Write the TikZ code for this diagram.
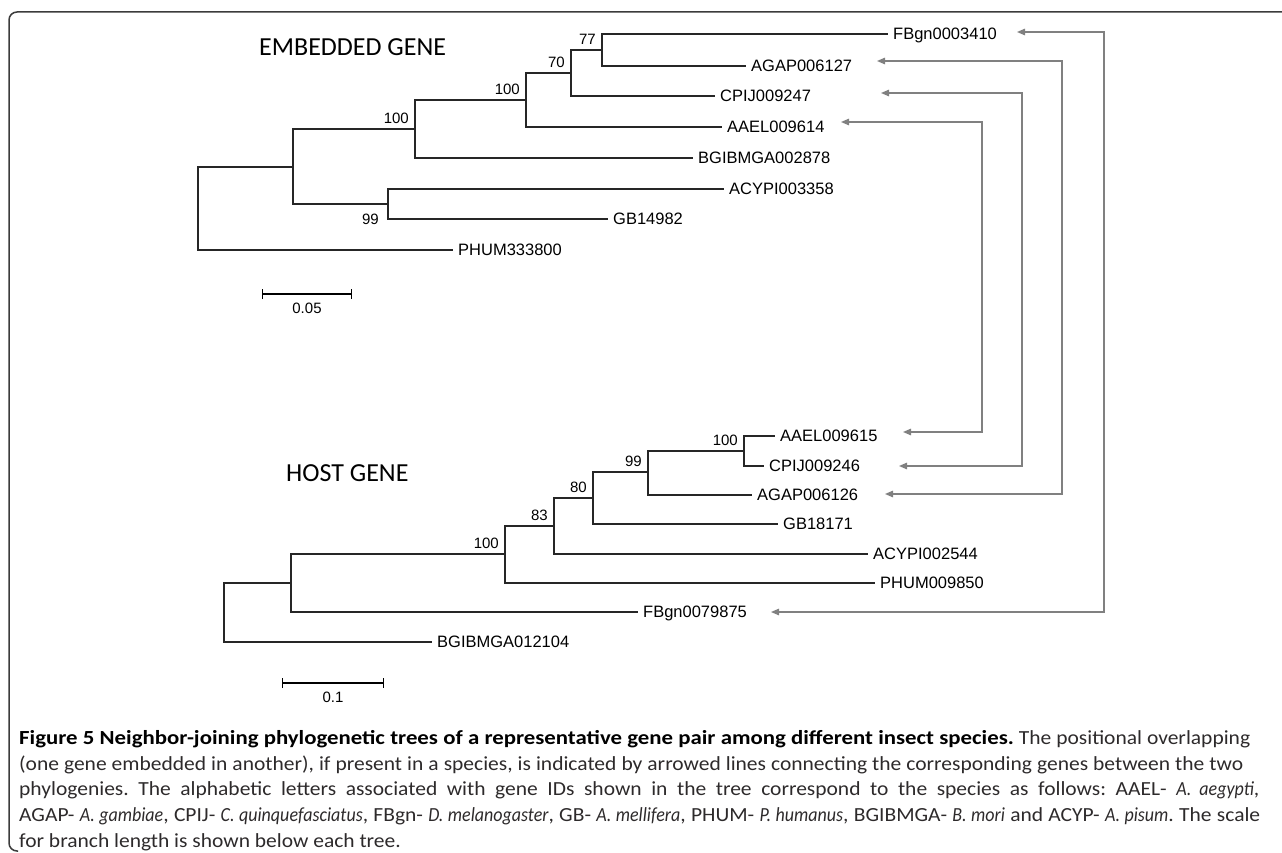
\documentclass[tikz,border=0pt]{standalone}
\usepackage{fontspec}
\setmainfont{Carlito}
\newfontfamily\arialfont{Liberation Sans}
\newfontfamily\capreg{Carlito}[FakeStretch=1.075]
\newfontfamily\capbold{Carlito}[FakeStretch=1.14]
\newfontfamily\capit{Carlito}[FakeStretch=0.9]
\usetikzlibrary{arrows.meta,positioning}
\definecolor{ntgray}{RGB}{128,128,128}
\definecolor{ntframe}{RGB}{60,60,60}
\definecolor{nttext}{RGB}{45,42,43}
\newcommand{\spname}[1]{{\capit\itshape #1}}
\newcommand{\capline}[2]{\makebox[#1pt][s]{#2}}
\frenchspacing
\tikzset{
  branch/.style={line width=1.2pt, black!85},
  leaf/.style={anchor=west, font=\arialfont\fontsize{16.5}{18}\selectfont, text height=11.8pt, text depth=0pt, inner xsep=5pt, inner ysep=1pt},
  boot/.style={inner sep=0pt, font=\arialfont\fontsize{15}{17}\selectfont},
  link/.style={ntgray, line width=1.3pt, {Triangle[length=8pt,width=6.5pt]}-{Triangle[length=8pt,width=6.5pt]}},
  treetitle/.style={anchor=west, inner sep=0pt, font=\fontsize{26}{30}\selectfont},
  scalebar/.style={line width=1.2pt, {Bar[width=10pt]}-{Bar[width=10pt]}},
}
\begin{document}
\begin{tikzpicture}[x=1pt,y=-1pt]
\useasboundingbox (0,0) rectangle (1282,853);
% frame
\draw[ntframe, line width=1.5pt, rounded corners=8pt] (1290,12) -- (9,12) -- (9,851) -- (18,851);

% embedded gene tree
\node[treetitle] (ttop) at (259,47) {EMBEDDED GENE};
\coordinate (r1) at (198,208);
\coordinate (a1) at (293,167);
\coordinate (b1) at (415,129);
\coordinate (c1) at (526,100);
\coordinate (d1) at (571,73);
\coordinate (e1) at (602,50);
\coordinate (f1) at (388,204);
\node[leaf] (fb1) at (888,34) {FBgn0003410};
\node[leaf] (ag1) at (746,66) {AGAP006127};
\node[leaf] (cp1) at (715,96) {CPIJ009247};
\node[leaf] (aa1) at (722,127) {AAEL009614};
\node[leaf] (bg1) at (693,158) {BGIBMGA002878};
\node[leaf] (ac1) at (724,189) {ACYPI003358};
\node[leaf] (gb1) at (608,219) {GB14982};
\node[leaf] (ph1) at (453,250) {PHUM333800};
\draw[branch] (r1) |- (a1) (r1) |- (ph1.west);
\draw[branch] (a1) |- (b1) (a1) |- (f1);
\draw[branch] (b1) |- (c1) (b1) |- (bg1.west);
\draw[branch] (c1) |- (d1) (c1) |- (aa1.west);
\draw[branch] (d1) |- (e1) (d1) |- (cp1.west);
\draw[branch] (e1) |- (fb1.west) (e1) |- (ag1.west);
\draw[branch] (f1) |- (ac1.west) (f1) |- (gb1.west);
\node[boot, above left=5pt and 6pt of b1] (bs1) {100};
\node[boot, above left=5pt and 6pt of c1] (cs1) {100};
\node[boot, above left=5pt and 6pt of d1] (ds1) {70};
\node[boot, above left=5pt and 6pt of e1] (es1) {77};
\node[boot, anchor=east] (fs1) at ([xshift=-9pt]f1 |- gb1.west) {99};
\draw[scalebar] (262,294) -- (352,294) node[boot, midway, below=8pt] (sc1) {0.05};

% host gene tree
\node[treetitle] (tbot) at (286,473) {HOST GENE};
\coordinate (r2) at (224,612);
\coordinate (g2) at (291,583);
\coordinate (h2) at (505,554);
\coordinate (i2) at (554,526);
\coordinate (j2) at (593,498);
\coordinate (k2) at (648,472);
\coordinate (l2) at (744,451);
\node[leaf] (aa2) at (775,436) {AAEL009615};
\node[leaf] (cp2) at (764,466) {CPIJ009246};
\node[leaf] (ag2) at (752,495) {AGAP006126};
\node[leaf] (gb2) at (778,524) {GB18171};
\node[leaf] (ac2) at (868,554) {ACYPI002544};
\node[leaf] (ph2) at (875,583) {PHUM009850};
\node[leaf] (fb2) at (638,612) {FBgn0079875};
\node[leaf] (bg2) at (432,642) {BGIBMGA012104};
\draw[branch] (r2) |- (g2) (r2) |- (bg2.west);
\draw[branch] (g2) |- (h2) (g2) |- (fb2.west);
\draw[branch] (h2) |- (i2) (h2) |- (ph2.west);
\draw[branch] (i2) |- (j2) (i2) |- (ac2.west);
\draw[branch] (j2) |- (k2) (j2) |- (gb2.west);
\draw[branch] (k2) |- (l2) (k2) |- (ag2.west);
\draw[branch] (l2) |- (aa2.west) (l2) |- (cp2.west);
\node[boot, above left=5pt and 6pt of h2] (hs2) {100};
\node[boot, above left=5pt and 6pt of i2] (is2) {83};
\node[boot, above left=5pt and 6pt of j2] (js2) {80};
\node[boot, above left=5pt and 6pt of k2] (ks2) {99};
\node[boot, above left=5pt and 6pt of l2] (ls2) {100};
\draw[scalebar] (282,683) -- (384,683) node[boot, midway, below=8pt] (sc2) {0.1};

% embedded -> host links
\coordinate (fbt) at (1017,32);  \coordinate (fbb) at (771,612);
\coordinate (agt) at (877,61);   \coordinate (agb) at (885,494);
\coordinate (cpt) at (881,93);   \coordinate (cpb) at (899,466);
\coordinate (aat) at (841,122);  \coordinate (aab) at (903,432);
\draw[link] (fbt) -| (1104,300) |- (fbb);
\draw[link] (agt) -| (1062,300) |- (agb);
\draw[link] (cpt) -| (1022,300) |- (cpb);
\draw[link] (aat) -| (982,300) |- (aab);

% caption
\node[anchor=north west, align=left, inner sep=0pt, text=nttext, font=\capreg\fontsize{20}{25.8}\selectfont] (cap) at (19,730)
{\capline{1231}{{\capbold\bfseries\color{black}Figure 5 Neighbor-joining phylogenetic trees of a representative gene pair among different insect species.} The positional overlapping}\\
\capline{1224}{(one gene embedded in another), if present in a species, is indicated by arrowed lines connecting the corresponding genes between the two}\\
\capline{1240}{phylogenies. The alphabetic letters associated with gene IDs shown in the tree correspond to the species as follows: AAEL- \spname{A. aegypti},}\\
\capline{1241}{AGAP- \spname{A. gambiae}, CPIJ- \spname{C. quinquefasciatus}, FBgn- \spname{D. melanogaster}, GB- \spname{A. mellifera}, PHUM- \spname{P. humanus}, BGIBMGA- \spname{B. mori} and ACYP- \spname{A. pisum}. The scale}\\
for branch length is shown below each tree.};
\end{tikzpicture}
\end{document}
